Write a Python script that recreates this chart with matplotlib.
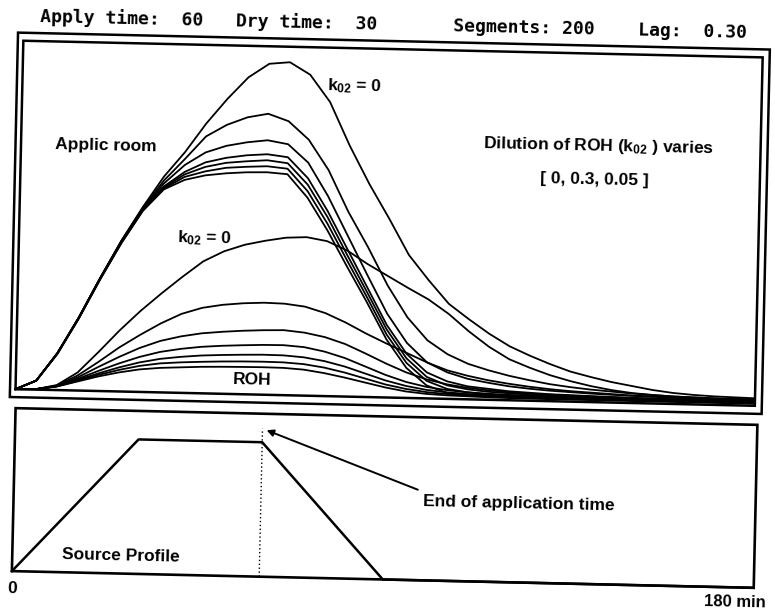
import matplotlib
matplotlib.use("Agg")
import matplotlib.pyplot as plt
import matplotlib.transforms as mtransforms
from matplotlib.patches import Rectangle

# ---------------- data ----------------
time_min = [0, 5, 10, 15, 20, 25, 30, 35, 40, 45, 50, 55, 60, 65, 70, 75, 80, 85, 90,
            95, 100, 105, 110, 115, 120, 125, 130, 135, 140, 145, 150, 155, 160, 165,
            170, 175, 180]
k02_values = [0.0, 0.05, 0.10, 0.15, 0.20, 0.25, 0.30]

# application-room concentration (arbitrary units), one list per k02
room_k000 = [0, 9, 37, 73, 113, 151, 185, 216, 241, 270, 295, 317, 331, 333, 321, 294, 251, 213, 179,
             143, 118, 95, 80, 66, 54, 45, 37, 30, 25, 20.5, 17, 13.5, 11, 9.5, 8.5, 8, 7.5]
room_k005 = [0, 9, 37, 73, 113, 151, 184, 212, 234, 257, 269, 277, 281, 274, 256, 226, 185, 150, 112,
             80.5, 58, 44.5, 35.5, 29.5, 24.5, 20.5, 17, 14.5, 12.5, 11, 9.5, 8.5, 7.5, 7, 6.5, 6, 6]
room_k010 = [0, 9, 37, 73, 113, 150.5, 183, 209, 228, 241, 248, 252, 254.5, 251, 233, 200, 161, 122, 84,
             55, 36, 26.5, 20.5, 17, 14, 12, 10.5, 9.5, 8.5, 7.8, 7.2, 6.7, 6.2, 5.8, 5.5, 5.3, 5]
room_k015 = [0, 9, 37, 72.5, 112.5, 150, 182.5, 206, 221, 231, 236, 239, 240.5, 238, 217.5, 185, 147.5, 110, 72.5,
             44, 26, 17.5, 13, 11, 9, 8, 7, 6.5, 6, 5.6, 5.2, 4.9, 4.6, 4.4, 4.2, 4.1, 4]
room_k020 = [0, 9, 36.5, 72.5, 112.5, 149.5, 182, 205, 218.5, 226.5, 231, 233, 234.5, 232, 211, 179, 141.5, 105, 68,
             39.5, 21.5, 13.5, 10, 8, 7, 6.2, 5.6, 5.2, 4.9, 4.6, 4.4, 4.2, 4, 3.9, 3.8, 3.7, 3.6]
room_k025 = [0, 9, 36.5, 72, 112, 149, 181.5, 204, 216, 222, 226, 227.5, 228.5, 226.5, 204.5, 172.5, 136, 100, 63,
             35, 17.5, 10, 7, 5.5, 5, 4.6, 4.3, 4.1, 3.9, 3.7, 3.6, 3.5, 3.4, 3.3, 3.2, 3.2, 3.1]
room_k030 = [0, 9, 36, 72, 111.5, 148.5, 181, 203, 213, 218, 220.5, 222, 222.5, 221, 198, 166, 130, 95, 58,
             30, 13, 6, 4.5, 4, 3.7, 3.5, 3.3, 3.2, 3.1, 3, 3, 2.9, 2.9, 2.8, 2.8, 2.8, 2.8]

# rest-of-house (ROH) concentration, one list per k02
roh_k000 = [0, 0.5, 5, 18, 39, 61, 81, 99, 116, 132, 142.5, 149.5, 154, 157.5, 158.5, 155, 146, 133, 121.5,
            110, 99, 85, 68, 53, 41, 33, 26, 20.5, 16, 12.5, 10, 8.5, 7.5, 7, 6.5, 6.5, 6.5]
roh_k005 = [0, 0.5, 4.5, 15, 29, 44, 57, 69, 79, 85.5, 89, 91, 92, 91.5, 89, 83, 74, 63.5, 54,
            45, 36, 28.5, 23.5, 19.5, 16.5, 14, 12, 10.5, 9.5, 8.5, 7.5, 7, 6.5, 6, 5.5, 5.5, 5]
roh_k010 = [0, 0.5, 4, 13, 24, 34.5, 44, 51.5, 56.5, 60, 62, 63.5, 64.5, 65, 63, 59, 52.5, 43.5, 34,
            25.5, 19, 14.5, 11.5, 9.5, 8, 7, 6.5, 6, 5.5, 5.2, 5, 4.8, 4.7, 4.6, 4.5, 4.5, 4.5]
roh_k015 = [0, 0.5, 3.9, 11.5, 20, 28, 35, 40.5, 44, 46.5, 48, 49, 49.8, 50, 48.5, 44.5, 38.5, 30.5, 22.5,
            16, 11.5, 8.7, 7, 6, 5.3, 4.9, 4.6, 4.4, 4.2, 4.1, 4, 3.9, 3.8, 3.8, 3.7, 3.7, 3.7]
roh_k020 = [0, 0.5, 3.8, 10.5, 17.5, 24, 29.5, 33.5, 36, 37.8, 38.8, 39.5, 40, 39.8, 38.3, 35, 30, 23.5, 17,
            12, 8.5, 6.5, 5.3, 4.5, 4, 3.8, 3.6, 3.5, 3.4, 3.3, 3.3, 3.2, 3.2, 3.2, 3.1, 3.1, 3.1]
roh_k025 = [0, 0.5, 3.7, 9.7, 16, 21.5, 26, 29, 30.5, 31.5, 32.3, 32.8, 33, 32.8, 31.5, 28.5, 24, 18.5, 13,
            9, 6.3, 4.8, 4, 3.4, 3, 2.9, 2.8, 2.8, 2.7, 2.7, 2.7, 2.6, 2.6, 2.6, 2.6, 2.6, 2.6]
roh_k030 = [0, 0.5, 3.5, 9, 14.5, 19, 22.5, 24.5, 25.5, 26.5, 27, 27.3, 27.5, 27.3, 26, 23, 19, 14.5, 10,
            6.5, 4.5, 3.5, 3, 2.5, 2.2, 2.1, 2, 2, 2, 2, 2, 2, 2, 2, 2, 2, 2]

room_curves = [room_k000, room_k005, room_k010, room_k015, room_k020, room_k025, room_k030]
roh_curves = [roh_k000, roh_k005, roh_k010, roh_k015, roh_k020, roh_k025, roh_k030]

# source profile (relative emission rate)
src_time = [0, 30, 60, 90, 180]
src_level = [0, 1, 1, 0, 0]

apply_time = 60
dry_time = 30
segments = 200
lag = 0.30
end_marker_level = 1.10

# ---------------- layout ----------------
W, H = 775, 609
TILT = -1.29

plt.rcParams["mathtext.fontset"] = "custom"
plt.rcParams["mathtext.rm"] = "Liberation Sans:bold"
plt.rcParams["mathtext.it"] = "Liberation Sans:bold"
plt.rcParams["mathtext.bf"] = "Liberation Sans:bold"

fig = plt.figure(figsize=(W / 100, H / 100), dpi=100)
fig.patch.set_facecolor("white")
R = mtransforms.Affine2D().rotate_deg_around(W / 2, H / 2, TILT)
px = mtransforms.Affine2D().scale(1 / W, -1 / H).translate(0, 1) + fig.transFigure + R


def frac(x0, y0, x1, y1):
    return [x0 / W, 1 - y1 / H, (x1 - x0) / W, (y1 - y0) / H]


LAB = dict(family=["Liberation Sans", "DejaVu Sans"], fontweight="bold", color="black")

# ---- top panel ----
ax_top = fig.add_axes(frac(17.5, 49, 757, 397.5))
ax_top.set_xlim(0, 180)
ax_top.set_ylim(0, 348.5)
ax_top.axis("off")
T_top = ax_top.transData + R
for c in room_curves + roh_curves:
    ax_top.plot(time_min, c, color="black", lw=1.3, transform=T_top, clip_on=False,
                solid_joinstyle="round")

fig.add_artist(Rectangle((0, 0), 1, 1, transform=ax_top.transAxes + R, fill=False,
                         lw=1.8, ec="black"))
fig.add_artist(Rectangle((12, 41), 752, 364.5, transform=px, fill=False, lw=1.8, ec="black"))

# ---- bottom panel ----
ax_bot = fig.add_axes(frac(18, 416.5, 760, 579.5))
ax_bot.set_xlim(0, 180)
ax_bot.set_ylim(0, 1.212)
ax_bot.axis("off")
T_bot = ax_bot.transData + R
ax_bot.plot(src_time, src_level, color="black", lw=1.8, transform=T_bot, clip_on=False)
ax_bot.plot([apply_time, apply_time], [0, end_marker_level], color="black", lw=1.0,
            ls=(0, (1, 1.8)), transform=T_bot, clip_on=False)
fig.add_artist(Rectangle((0, 0), 1, 1, transform=ax_bot.transAxes + R, fill=False,
                         lw=1.9, ec="black"))
ax_bot.annotate("", xy=(apply_time + 1, end_marker_level - 0.01), xycoords=T_bot,
                xytext=(422, 489), textcoords=px, annotation_clip=False,
                arrowprops=dict(arrowstyle="-|>", color="black", lw=1.4,
                                mutation_scale=10, shrinkA=0, shrinkB=0))

# ---- texts ----
def txt(x, y, s, ha="left", va="center", size=12.5, **kw):
    props = dict(LAB)
    props.update(kw)
    fig.text(x, y, s, transform=px, rotation=TILT, rotation_mode="anchor",
             ha=ha, va=va, fontsize=size, **props)


header = (f"Apply time:  {apply_time}   Dry time:  {dry_time}       "
          f"Segments: {segments}    Lag:  {lag:.2f}")
fig.text(33.6, 24, header, transform=px, rotation=TILT, rotation_mode="anchor",
         ha="left", va="center", fontsize=13, family="DejaVu Sans Mono",
         fontweight="bold", color="black")

txt(51.5, 152.5, "Applic room")
txt(322, 92, r"k$_{02}$ = 0", va="baseline")
txt(175.5, 247, r"k$_{02}$ = 0", va="baseline")
txt(253.7, 383, "ROH", ha="center")
txt(595, 141, r"Dilution of ROH (k$_{02}$ ) varies", ha="center")
txt(592, 175.5, "[ 0, 0.3, 0.05 ]", ha="center")
txt(67.6, 562, "Source Profile")
txt(427.5, 501, "End of application time")
txt(18.9, 597, "0", ha="center")
txt(772, 594, "180 min", ha="right", size=12)

fig.savefig("out.png", dpi=100, facecolor="white")
